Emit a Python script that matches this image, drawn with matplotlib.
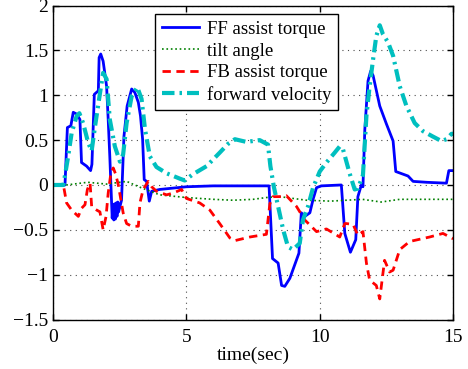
import numpy as np
import matplotlib
matplotlib.use("Agg")
import matplotlib.pyplot as plt

plt.rcParams['font.family'] = ['Liberation Serif', 'DejaVu Serif']
plt.rcParams['mathtext.fontset'] = 'stix'

# FF assist torque (blue solid)
ff_t = [0, 0.45, 0.54, 0.67, 0.76, 0.89, 1.01, 1.07, 1.26, 1.41, 1.46, 1.55, 1.70, 1.73, 1.79,
        1.88, 2.01, 2.07, 2.13, 2.22, 2.25, 2.28, 2.31, 2.34, 2.37, 2.40, 2.43, 2.46, 2.57,
        2.66, 2.78, 2.95, 3.07, 3.20, 3.28, 3.36, 3.42, 3.51, 3.61, 3.70, 4.0, 5.0, 6.0, 7.0,
        8.1, 8.23, 8.44, 8.57, 8.69, 8.88, 9.22, 9.31, 9.44, 9.63, 9.75, 9.88, 10.06, 10.81,
        10.94, 11.15, 11.35, 11.43, 11.56, 11.62, 11.69, 11.81, 11.91, 12.0, 12.25, 12.5,
        12.75, 12.85, 13.31, 13.5, 14.0, 14.75, 14.84, 15.0]
ff_v = [0, 0, 0.64, 0.66, 0.81, 0.79, 0.73, 0.25, 0.21, 0.16, 0.23, 1.01, 1.05, 1.42, 1.46,
        1.38, 1.10, 0.73, 0.32, -0.37, -0.22, -0.39, -0.21, -0.38, -0.2, -0.35, -0.19, -0.3, -0.17,
        0.54, 0.88, 1.07, 1.03, 0.92, 0.77, 0.51, 0.06, 0.04, -0.18, -0.07, -0.05, -0.02, -0.01, -0.01,
        -0.01, -0.82, -0.87, -1.12, -1.13, -1.04, -0.76, -0.31, -0.35, -0.31, -0.16, -0.03, -0.01, 0.0,
        -0.54, -0.75, -0.61, -0.13, 0.0, -0.02, 0.62, 1.16, 1.27, 1.22, 0.88, 0.68,
        0.49, 0.15, 0.10, 0.04, 0.03, 0.02, 0.16, 0.16]

# tilt angle (green dotted)
tilt_t = [0, 0.5, 1.3, 2.0, 2.76, 3.3, 4.0, 5.0, 6.0, 6.75, 7.5, 8.0, 8.5, 9.0, 9.5, 10.4,
          11.0, 11.6, 12.3, 13.0, 14.0, 15.0]
tilt_v = [0, 0, 0.03, 0.01, 0.04, -0.03, -0.11, -0.14, -0.16, -0.17, -0.16, -0.14, -0.13, -0.15,
          -0.17, -0.18, -0.17, -0.16, -0.19, -0.16, -0.16, -0.16]

# FB assist torque (red dashed)
fb_t = [0, 0.39, 0.51, 0.70, 0.95, 1.07, 1.2, 1.29, 1.39, 1.45, 1.64, 1.76, 1.88, 1.99, 2.07,
        2.17, 2.26, 2.35, 2.45, 2.63, 2.76, 2.95, 3.2, 3.26, 3.38, 3.57, 3.70, 3.88, 4.26, 4.51,
        4.82, 5.0, 5.5, 5.88, 6.25, 6.63, 6.82, 7.38, 8.0, 8.13, 8.25, 8.63, 8.75, 9.13, 9.44,
        9.88, 10.25, 10.75, 10.94, 11.0, 11.25, 11.43, 11.62, 11.75, 11.87, 12.12, 12.25, 12.43,
        12.62, 12.75, 13.0, 13.37, 14.12, 14.62, 14.94, 15.0]
fb_v = [0, 0, -0.2, -0.28, -0.35, -0.26, -0.22, -0.05, 0.02, -0.24, -0.28, -0.3, -0.5, -0.35, -0.09,
        0.13, 0.19, 0.12, 0.0, -0.31, -0.43, -0.46, -0.46, -0.2, -0.05, 0.04, -0.02, -0.07, -0.11, -0.09,
        -0.05, -0.15, -0.2, -0.28, -0.43, -0.59, -0.62, -0.58, -0.55, -0.21, -0.13, -0.13, -0.12, -0.24, -0.39,
        -0.52, -0.49, -0.58, -0.43, -0.43, -0.44, -0.56, -0.52, -0.87, -1.06, -1.12, -1.27, -0.84,
        -0.97, -0.95, -0.72, -0.63, -0.58, -0.54, -0.59, -0.6]

# forward velocity (cyan dash-dot)
vel_t = [0, 0.39, 0.57, 0.70, 0.89, 0.99, 1.13, 1.32, 1.45, 1.57, 1.73, 1.88, 2.01, 2.13, 2.32,
         2.51, 2.63, 2.76, 2.95, 3.16, 3.32, 3.45, 3.63, 3.88, 4.26, 4.76, 4.94, 5.25, 5.76, 6.25,
         6.57, 6.82, 7.25, 7.75, 8.06, 8.15, 8.28, 8.44, 8.63, 8.81, 9.0, 9.25, 9.37, 9.56, 9.75,
         10.0, 10.25, 10.56, 10.75, 10.87, 11.12, 11.31, 11.43, 11.62, 11.75, 11.87, 12.0, 12.12,
         12.25, 12.37, 12.56, 12.75, 13.0, 13.25, 13.56, 13.87, 14.24, 14.56, 14.75, 14.94, 15.0]
vel_v = [0, 0, 0.32, 0.58, 0.77, 0.80, 0.69, 0.47, 0.38, 0.64, 0.96, 1.25, 1.18, 0.73, 0.43,
         0.26, 0.34, 0.69, 0.99, 1.09, 0.96, 0.62, 0.32, 0.20, 0.13, 0.07, 0.05, 0.12, 0.21, 0.36,
         0.46, 0.51, 0.48, 0.50, 0.45, 0.21, -0.02, -0.24, -0.5, -0.69, -0.72, -0.65, -0.39, -0.24, -0.03,
         0.15, 0.25, 0.36, 0.43, 0.40, 0.13, -0.05, -0.04, 0.11, 0.77, 1.10, 1.40, 1.66,
         1.78, 1.68, 1.59, 1.44, 1.10, 0.88, 0.69, 0.60, 0.54, 0.49, 0.51, 0.57, 0.57]

labels = ["FF assist torque", "tilt angle", "FB assist torque", "forward velocity"]

fig = plt.figure(figsize=(4.68, 3.69), dpi=100)
ax = fig.add_axes([0.1132, 0.134, 0.855, 0.851])

ax.plot(ff_t, ff_v, color=(0, 0, 1), linewidth=2.0, label=labels[0])
ax.plot(tilt_t, tilt_v, color=(0, 0.5, 0), linewidth=1.2, linestyle=':', label=labels[1])
ax.plot(fb_t, fb_v, color=(1, 0, 0), linewidth=2.0, linestyle=(0, (3, 2)), label=labels[2])
ax.plot(vel_t, vel_v, color=(0, 0.75, 0.75), linewidth=3.0, linestyle=(0, (3, 1.2, 0.6, 1.2)),
        label=labels[3])

ax.set_xlim(0, 15)
ax.set_ylim(-1.5, 2)
ax.set_xticks([0, 5, 10, 15])
ax.set_yticks([-1.5, -1, -0.5, 0, 0.5, 1, 1.5, 2])
ax.set_yticklabels(["\u22121.5", "\u22121", "\u22120.5", "0", "0.5", "1", "1.5", "2"])
ax.tick_params(direction='in', labelsize=14, top=True, right=True, length=4, width=1)
ax.tick_params(axis='x', pad=7)
ax.grid(True, linestyle=(0, (1, 4)), color='0.3', linewidth=0.8)
for s in ax.spines.values():
    s.set_linewidth(1.0)
ax.set_xlabel("time(sec)", fontsize=14, labelpad=0)

leg = ax.legend(loc='upper left', bbox_to_anchor=(0.255, 0.973), fontsize=13.5, frameon=True,
                fancybox=False, edgecolor='black', framealpha=1, borderpad=0.35,
                handlelength=2.0, labelspacing=0.25, borderaxespad=0, handletextpad=0.4)
leg.get_frame().set_linewidth(1.0)

fig.savefig("out.png", dpi=100)
